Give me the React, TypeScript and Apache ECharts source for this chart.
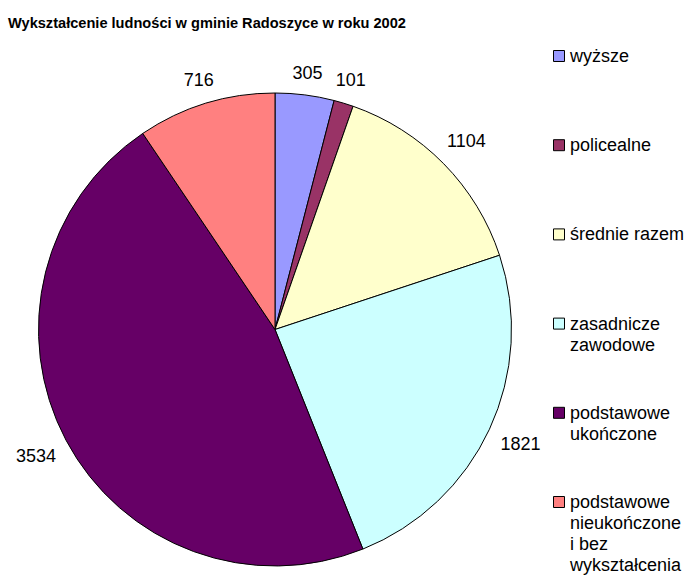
import React, { useEffect, useRef } from "react";
import * as echarts from "echarts";

const titleText = "Wykształcenie ludności w gminie Radoszyce w roku 2002";
const categories = [
  "wyższe",
  "policealne",
  "średnie razem",
  "zasadnicze zawodowe",
  "podstawowe ukończone",
  "podstawowe nieukończone i bez wykształcenia",
];
const legendLabels = [
  "wyższe",
  "policealne",
  "średnie razem",
  "zasadnicze\nzawodowe",
  "podstawowe\nukończone",
  "podstawowe\nnieukończone\ni bez\nwykształcenia",
];
const values = [305, 101, 1104, 1821, 3534, 716];
const colors = ["#9999FF", "#993366", "#FFFFCC", "#CCFFFF", "#660066", "#FF8080"];

const FONT = "'Liberation Sans', Arial, sans-serif";
const CX = 275;
const CY = 329.5;
const R = 236.5;
const GAP = 13;
const LEGEND_X = 553;
const LEGEND_Y0 = 56;
const LEGEND_STEP = 89.2;

export default function App() {
  const ref = useRef<HTMLDivElement>(null);
  useEffect(() => {
    if (!ref.current) return;
    const chart = echarts.init(ref.current, null, { renderer: "svg" });
    const total = values.reduce((a, b) => a + b, 0);
    const midAngles = values.map((v, i) => {
      const before = values.slice(0, i).reduce((a, b) => a + b, 0);
      return ((before + v / 2) / total) * 2 * Math.PI;
    });

    const legendGraphics: any[] = [];
    legendLabels.forEach((lab, i) => {
      const y = LEGEND_Y0 + i * LEGEND_STEP;
      legendGraphics.push({
        type: "rect",
        shape: { x: LEGEND_X + 0.5, y: y - 5.5, width: 11, height: 11 },
        style: { fill: colors[i], stroke: "#000", lineWidth: 1 },
      });
      legendGraphics.push({
        type: "text",
        x: LEGEND_X + 17,
        y: y - 10.5,
        style: {
          text: lab,
          fontFamily: FONT,
          fontSize: 18,
          lineHeight: 21,
          fill: "#000",
          verticalAlign: "top",
          align: "left",
        },
      });
    });

    chart.setOption({
      animation: false,
      backgroundColor: "#fff",
      title: {
        text: titleText,
        left: 8,
        top: 15,
        padding: 0,
        textStyle: {
          fontFamily: FONT,
          fontSize: 14.6,
          fontWeight: "bold",
          color: "#000",
          lineHeight: 16,
        },
      },
      graphic: legendGraphics,
      series: [
        {
          type: "pie",
          center: [CX, CY],
          radius: R,
          startAngle: 90,
          clockwise: true,
          avoidLabelOverlap: false,
          data: categories.map((c, i) => ({
            name: c,
            value: values[i],
            itemStyle: { color: colors[i] },
          })),
          itemStyle: { borderColor: "#000", borderWidth: 1 },
          label: {
            show: true,
            position: "outside",
            formatter: "{c}",
            fontFamily: FONT,
            fontSize: 18,
            color: "#000",
          },
          labelLine: { show: false },
          labelLayout: (p: any) => {
            const a = midAngles[p.dataIndex];
            const ux = Math.sin(a);
            const uy = -Math.cos(a);
            const w = p.labelRect.width;
            const h = p.labelRect.height;
            const ext = (Math.abs(ux) * w) / 2 + Math.abs(uy) * h * 0.4;
            const d = R + GAP + ext;
            return {
              x: CX + ux * d,
              y: CY + uy * d,
              align: "center",
              verticalAlign: "middle",
            };
          },
          emphasis: { disabled: true },
        },
      ],
    });
    return () => chart.dispose();
  }, []);
  return (
    <div
      ref={ref}
      style={{ position: "fixed", left: 0, top: 0, width: 693, height: 576, background: "#fff" }}
    />
  );
}
